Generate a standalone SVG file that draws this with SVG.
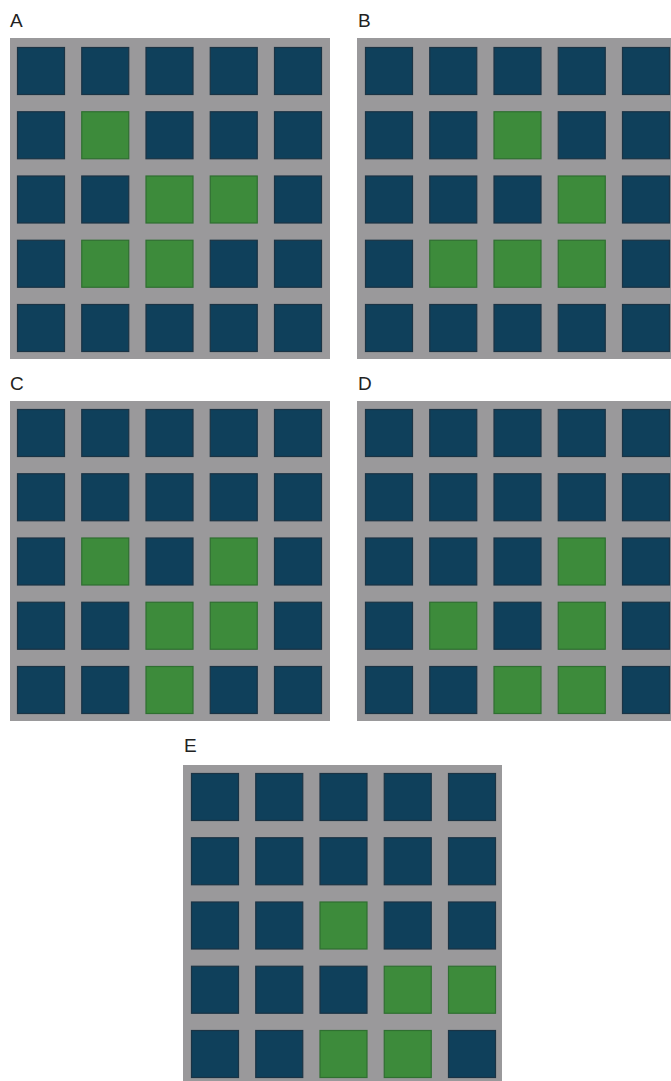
<svg xmlns="http://www.w3.org/2000/svg" xmlns:xlink="http://www.w3.org/1999/xlink" width="671" height="1081" viewBox="0 0 671 1081">
<style>
.lbl{font-family:"Liberation Sans",Arial,sans-serif;font-size:19px;fill:#222}
.bg{fill:#9a999b}
.d{fill:#0f405b;stroke:#1b3344;stroke-width:1.2}
.g{fill:#3d8b3b;stroke:#2f6f31;stroke-width:1.2}
</style>
<defs>
<rect id="s" width="47" height="47"/>
</defs>
<rect width="671" height="1081" fill="#ffffff"/>
<g id="panelA">
<text class="lbl" x="10" y="27">A</text>
<rect class="bg" x="10" y="38" width="320" height="321"/>
<g transform="translate(17.5,47.5)">
<use href="#s" class="d" x="0" y="0"/><use href="#s" class="d" x="64.25" y="0"/><use href="#s" class="d" x="128.5" y="0"/><use href="#s" class="d" x="192.75" y="0"/><use href="#s" class="d" x="257" y="0"/>
<use href="#s" class="d" x="0" y="64.25"/><use href="#s" class="g" x="64.25" y="64.25"/><use href="#s" class="d" x="128.5" y="64.25"/><use href="#s" class="d" x="192.75" y="64.25"/><use href="#s" class="d" x="257" y="64.25"/>
<use href="#s" class="d" x="0" y="128.5"/><use href="#s" class="d" x="64.25" y="128.5"/><use href="#s" class="g" x="128.5" y="128.5"/><use href="#s" class="g" x="192.75" y="128.5"/><use href="#s" class="d" x="257" y="128.5"/>
<use href="#s" class="d" x="0" y="192.75"/><use href="#s" class="g" x="64.25" y="192.75"/><use href="#s" class="g" x="128.5" y="192.75"/><use href="#s" class="d" x="192.75" y="192.75"/><use href="#s" class="d" x="257" y="192.75"/>
<use href="#s" class="d" x="0" y="257"/><use href="#s" class="d" x="64.25" y="257"/><use href="#s" class="d" x="128.5" y="257"/><use href="#s" class="d" x="192.75" y="257"/><use href="#s" class="d" x="257" y="257"/>
</g>
</g>
<g id="panelB">
<text class="lbl" x="358" y="27">B</text>
<rect class="bg" x="357" y="38" width="314" height="321"/>
<g transform="translate(365.5,47.5)">
<use href="#s" class="d" x="0" y="0"/><use href="#s" class="d" x="64.25" y="0"/><use href="#s" class="d" x="128.5" y="0"/><use href="#s" class="d" x="192.75" y="0"/><use href="#s" class="d" x="257" y="0"/>
<use href="#s" class="d" x="0" y="64.25"/><use href="#s" class="d" x="64.25" y="64.25"/><use href="#s" class="g" x="128.5" y="64.25"/><use href="#s" class="d" x="192.75" y="64.25"/><use href="#s" class="d" x="257" y="64.25"/>
<use href="#s" class="d" x="0" y="128.5"/><use href="#s" class="d" x="64.25" y="128.5"/><use href="#s" class="d" x="128.5" y="128.5"/><use href="#s" class="g" x="192.75" y="128.5"/><use href="#s" class="d" x="257" y="128.5"/>
<use href="#s" class="d" x="0" y="192.75"/><use href="#s" class="g" x="64.25" y="192.75"/><use href="#s" class="g" x="128.5" y="192.75"/><use href="#s" class="g" x="192.75" y="192.75"/><use href="#s" class="d" x="257" y="192.75"/>
<use href="#s" class="d" x="0" y="257"/><use href="#s" class="d" x="64.25" y="257"/><use href="#s" class="d" x="128.5" y="257"/><use href="#s" class="d" x="192.75" y="257"/><use href="#s" class="d" x="257" y="257"/>
</g>
</g>
<g id="panelC">
<text class="lbl" x="10" y="390">C</text>
<rect class="bg" x="10" y="401" width="320" height="320"/>
<g transform="translate(17.5,409.5)">
<use href="#s" class="d" x="0" y="0"/><use href="#s" class="d" x="64.25" y="0"/><use href="#s" class="d" x="128.5" y="0"/><use href="#s" class="d" x="192.75" y="0"/><use href="#s" class="d" x="257" y="0"/>
<use href="#s" class="d" x="0" y="64.25"/><use href="#s" class="d" x="64.25" y="64.25"/><use href="#s" class="d" x="128.5" y="64.25"/><use href="#s" class="d" x="192.75" y="64.25"/><use href="#s" class="d" x="257" y="64.25"/>
<use href="#s" class="d" x="0" y="128.5"/><use href="#s" class="g" x="64.25" y="128.5"/><use href="#s" class="d" x="128.5" y="128.5"/><use href="#s" class="g" x="192.75" y="128.5"/><use href="#s" class="d" x="257" y="128.5"/>
<use href="#s" class="d" x="0" y="192.75"/><use href="#s" class="d" x="64.25" y="192.75"/><use href="#s" class="g" x="128.5" y="192.75"/><use href="#s" class="g" x="192.75" y="192.75"/><use href="#s" class="d" x="257" y="192.75"/>
<use href="#s" class="d" x="0" y="257"/><use href="#s" class="d" x="64.25" y="257"/><use href="#s" class="g" x="128.5" y="257"/><use href="#s" class="d" x="192.75" y="257"/><use href="#s" class="d" x="257" y="257"/>
</g>
</g>
<g id="panelD">
<text class="lbl" x="358" y="390">D</text>
<rect class="bg" x="357" y="401" width="314" height="320"/>
<g transform="translate(365.5,409.5)">
<use href="#s" class="d" x="0" y="0"/><use href="#s" class="d" x="64.25" y="0"/><use href="#s" class="d" x="128.5" y="0"/><use href="#s" class="d" x="192.75" y="0"/><use href="#s" class="d" x="257" y="0"/>
<use href="#s" class="d" x="0" y="64.25"/><use href="#s" class="d" x="64.25" y="64.25"/><use href="#s" class="d" x="128.5" y="64.25"/><use href="#s" class="d" x="192.75" y="64.25"/><use href="#s" class="d" x="257" y="64.25"/>
<use href="#s" class="d" x="0" y="128.5"/><use href="#s" class="d" x="64.25" y="128.5"/><use href="#s" class="d" x="128.5" y="128.5"/><use href="#s" class="g" x="192.75" y="128.5"/><use href="#s" class="d" x="257" y="128.5"/>
<use href="#s" class="d" x="0" y="192.75"/><use href="#s" class="g" x="64.25" y="192.75"/><use href="#s" class="d" x="128.5" y="192.75"/><use href="#s" class="g" x="192.75" y="192.75"/><use href="#s" class="d" x="257" y="192.75"/>
<use href="#s" class="d" x="0" y="257"/><use href="#s" class="d" x="64.25" y="257"/><use href="#s" class="g" x="128.5" y="257"/><use href="#s" class="g" x="192.75" y="257"/><use href="#s" class="d" x="257" y="257"/>
</g>
</g>
<g id="panelE">
<text class="lbl" x="184" y="752">E</text>
<rect class="bg" x="183" y="765" width="319" height="316"/>
<g transform="translate(191.5,773.5)">
<use href="#s" class="d" x="0" y="0"/><use href="#s" class="d" x="64.25" y="0"/><use href="#s" class="d" x="128.5" y="0"/><use href="#s" class="d" x="192.75" y="0"/><use href="#s" class="d" x="257" y="0"/>
<use href="#s" class="d" x="0" y="64.25"/><use href="#s" class="d" x="64.25" y="64.25"/><use href="#s" class="d" x="128.5" y="64.25"/><use href="#s" class="d" x="192.75" y="64.25"/><use href="#s" class="d" x="257" y="64.25"/>
<use href="#s" class="d" x="0" y="128.5"/><use href="#s" class="d" x="64.25" y="128.5"/><use href="#s" class="g" x="128.5" y="128.5"/><use href="#s" class="d" x="192.75" y="128.5"/><use href="#s" class="d" x="257" y="128.5"/>
<use href="#s" class="d" x="0" y="192.75"/><use href="#s" class="d" x="64.25" y="192.75"/><use href="#s" class="d" x="128.5" y="192.75"/><use href="#s" class="g" x="192.75" y="192.75"/><use href="#s" class="g" x="257" y="192.75"/>
<use href="#s" class="d" x="0" y="257"/><use href="#s" class="d" x="64.25" y="257"/><use href="#s" class="g" x="128.5" y="257"/><use href="#s" class="g" x="192.75" y="257"/><use href="#s" class="d" x="257" y="257"/>
</g>
</g>
<g id="connectors"/>
</svg>
